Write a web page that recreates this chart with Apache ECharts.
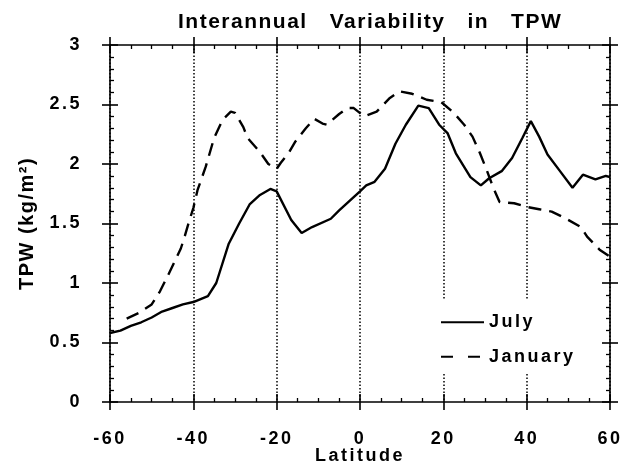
<!DOCTYPE html>
<html>
<head>
<meta charset="utf-8">
<script src="https://cdn.jsdelivr.net/npm/echarts@6/dist/echarts.min.js"></script>
<style>
  html, body { margin: 0; padding: 0; background: #fff; }
  #chart { width: 630px; height: 464px; }
</style>
</head>
<body>
<div id="chart"></div>
<script>
// ---- data ----
const titleText = 'Interannual   Variability   in   TPW';
const xAxisName = 'Latitude';
const yAxisName = 'TPW (kg/m\u00B2)';
const seriesNames = ['July', 'January'];

const julyLat = [-60, -57.5, -55, -52.5, -50, -47.5, -45, -42.5, -40, -36.5, -34.5, -31.5, -29, -26.5, -24, -21.5, -20, -16.5, -14, -11.5, -7, -5, -2.5, 0, 1.5, 3.5, 6, 8.5, 11, 14, 16.5, 19, 21, 23, 26.5, 29, 31, 34, 36.5, 39, 41, 43, 45, 48, 51, 53.5, 56.5, 59, 60];
const julyVal = [0.58, 0.60, 0.64, 0.67, 0.71, 0.76, 0.79, 0.82, 0.84, 0.89, 1.00, 1.33, 1.50, 1.66, 1.74, 1.79, 1.77, 1.53, 1.42, 1.47, 1.54, 1.61, 1.69, 1.77, 1.82, 1.85, 1.96, 2.17, 2.33, 2.49, 2.47, 2.33, 2.26, 2.09, 1.89, 1.82, 1.88, 1.94, 2.05, 2.22, 2.36, 2.23, 2.08, 1.94, 1.80, 1.91, 1.87, 1.90, 1.89];

const janLat = [-56, -53, -50, -48, -46, -44.5, -43, -42, -41, -40, -39, -37, -35, -33, -31, -30, -28, -27, -24, -22, -20, -19, -17, -15.5, -13, -11, -9, -8, -5, -3, -1.5, 1, 4, 7, 9.5, 12.5, 16, 19.5, 22.5, 25, 27, 28.8, 30.4, 32, 33.5, 37, 40, 43, 46, 49.5, 53, 54.5, 57.5, 60];
const janVal = [0.70, 0.75, 0.82, 0.93, 1.07, 1.18, 1.29, 1.40, 1.52, 1.63, 1.78, 1.98, 2.22, 2.37, 2.44, 2.43, 2.31, 2.22, 2.10, 2.00, 1.96, 2.01, 2.10, 2.19, 2.30, 2.38, 2.34, 2.33, 2.42, 2.47, 2.47, 2.40, 2.44, 2.55, 2.61, 2.59, 2.54, 2.52, 2.43, 2.33, 2.23, 2.09, 1.95, 1.80, 1.68, 1.67, 1.64, 1.62, 1.60, 1.54, 1.47, 1.39, 1.28, 1.22];

const xMin = -60, xMax = 60, xStep = 20;
const yMin = 0, yMax = 3, yStep = 0.5;

// ---- letter spacing for canvas text (the reference typeface is set wide) ----
(function () {
  const proto = window.CanvasRenderingContext2D && CanvasRenderingContext2D.prototype;
  if (!proto) return;
  const desc = Object.getOwnPropertyDescriptor(proto, 'font');
  if (!desc || !desc.set) return;
  Object.defineProperty(proto, 'font', {
    configurable: true,
    get() { return desc.get.call(this); },
    set(v) {
      desc.set.call(this, v);
      const m = /(\d+(?:\.\d+)?)px/.exec(v);
      const size = m ? parseFloat(m[1]) : 12;
      try { this.letterSpacing = size >= 19.5 ? '1.5px' : (size >= 17 ? '2.5px' : '0px'); } catch (e) {}
    }
  });
})();

// ---- chart ----
const FONT = "'Liberation Sans', Arial, sans-serif";
const BLACK = '#000';
const chart = echarts.init(document.getElementById('chart'), null, { renderer: 'canvas' });

function pair(xs, ys) { return xs.map((x, i) => [x, ys[i]]); }

function xAx(position, main) {
  const isLabelled = main && position === 'bottom';
  return {
    type: 'value', min: xMin, max: xMax, interval: xStep, position: position,
    axisLine: { show: true, onZero: false, lineStyle: { color: BLACK, width: main ? 1.6 : 0 } },
    axisTick: { show: true, inside: !main, length: 8, lineStyle: { color: BLACK, width: 1.6 } },
    minorTick: { show: !main, splitNumber: 4, length: 4, lineStyle: { color: BLACK, width: 1.3 } },
    axisLabel: isLabelled ? {
      show: true, margin: 27, color: BLACK, fontFamily: FONT, fontWeight: 'bold', fontSize: 18
    } : { show: false },
    splitLine: isLabelled ? {
      show: true, lineStyle: { color: BLACK, width: 1.5, type: [1.5, 2] }
    } : { show: false },
    name: isLabelled ? xAxisName : '',
    nameLocation: 'middle', nameGap: 44, nameMoveOverlap: false,
    nameTextStyle: { color: BLACK, fontFamily: FONT, fontWeight: 'bold', fontSize: 18 }
  };
}
function yAx(position, main) {
  const isLabelled = main && position === 'left';
  return {
    type: 'value', min: yMin, max: yMax, interval: yStep, position: position,
    axisLine: { show: true, onZero: false, lineStyle: { color: BLACK, width: main ? 1.6 : 0 } },
    axisTick: { show: true, inside: !main, length: 8, lineStyle: { color: BLACK, width: 1.6 } },
    minorTick: { show: !main, splitNumber: 5, length: 4, lineStyle: { color: BLACK, width: 1.3 } },
    axisLabel: isLabelled ? {
      show: true, margin: 28, color: BLACK, fontFamily: FONT, fontWeight: 'bold', fontSize: 18,
      formatter: v => String(v)
    } : { show: false },
    splitLine: { show: false },
    name: isLabelled ? yAxisName : '',
    nameLocation: 'middle', nameGap: 70, nameRotate: 90,
    nameTextStyle: { color: BLACK, fontFamily: FONT, fontWeight: 'bold', fontSize: 20 }
  };
}

const option = {
  backgroundColor: '#fff',
  animation: false,
  title: {
    text: titleText, left: 173, top: 6,
    textStyle: { color: BLACK, fontFamily: FONT, fontWeight: 'bold', fontSize: 21 }
  },
  grid: { left: 110, right: 20, top: 45, bottom: 62, containLabel: false, outerBoundsMode: 'none' },
  xAxis: [xAx('bottom', true), xAx('bottom', false), xAx('top', true), xAx('top', false)],
  yAxis: [yAx('left', true), yAx('left', false), yAx('right', true), yAx('right', false)],
  legend: {
    orient: 'vertical', left: 436, top: 299,
    padding: [13, 12, 7, 4],
    backgroundColor: '#fff',
    itemWidth: 43, itemHeight: 14, itemGap: 14, itemTextGap: 3,
    textStyle: { color: BLACK, fontFamily: FONT, fontWeight: 'bold', fontSize: 18 },
    data: [
      { name: seriesNames[0], itemStyle: { opacity: 0 } },
      { name: seriesNames[1], itemStyle: { opacity: 0 }, lineStyle: { type: [12, 15] } }
    ]
  },
  series: [
    {
      name: seriesNames[0], type: 'line', xAxisIndex: 0, yAxisIndex: 0,
      data: pair(julyLat, julyVal), showSymbol: false, symbol: 'none',
      lineStyle: { color: BLACK, width: 2.4, type: 'solid' }, itemStyle: { color: BLACK }
    },
    {
      name: seriesNames[1], type: 'line', xAxisIndex: 0, yAxisIndex: 0,
      data: pair(janLat, janVal), showSymbol: false, symbol: 'none',
      lineStyle: { color: BLACK, width: 2.4, type: [13, 8] }, itemStyle: { color: BLACK }
    }
  ]
};
chart.setOption(option);
</script>
</body>
</html>
